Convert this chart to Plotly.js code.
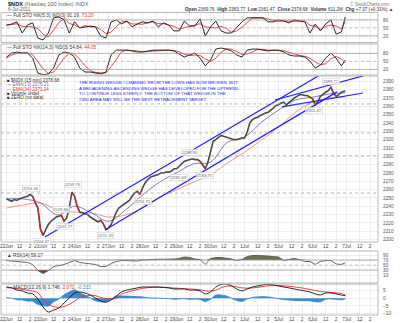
<!DOCTYPE html>
<html><head><meta charset="utf-8">
<script src="https://cdn.plot.ly/plotly-3.0.1.min.js"></script>
<style>html,body{margin:0;padding:0;background:#fff}#chart{width:400px;height:323px}</style>
</head><body><div id="chart"></div>
<script>
// ---------------- DATA ----------------
const dayLabels = ['22Jun','23Jun','24Jun','27Jun','28Jun','29Jun','30Jun','1Jul','5Jul','6Jul','7Jul'];
const intradayLabels = ['12','2'];          // 12:00 and 14:00 ticks
const intradayOffsets = [10, 18];           // bar offsets (15-min bars) from the open
const barsPerDay = 26;

// $NDX 15-min price, read every 30 minutes (13 readings per session)
const price = [
  2249,2247,2246,2248,2247,2249,2250,2251,2252,2254,2252,2244,2238,   // 22Jun
  2212,2205,2212,2218,2222,2225,2227,2228,2229,2222,2226,2238,2257,   // 23Jun
  2252,2240,2233,2232,2231,2230,2227,2225,2223,2221,2223,2219,2212,   // 24Jun
  2214,2218,2226,2233,2238,2240,2242,2244,2247,2252,2256,2258,2254,   // 27Jun
  2262,2268,2272,2275,2276,2277,2278,2280,2280,2281,2281,2282,2285,   // 28Jun
  2285,2288,2292,2294,2295,2296,2297,2296,2296,2294,2290,2285,2293,   // 29Jun
  2305,2318,2320,2322,2325,2324,2323,2322,2321,2320,2320,2321,2322,   // 30Jun
  2322,2329,2340,2344,2346,2347,2349,2351,2352,2353,2355,2358,2361,   // 1Jul
  2362,2364,2365,2362,2365,2368,2370,2372,2374,2374,2373,2373,2371,   // 5Jul
  2369,2362,2366,2372,2375,2377,2379,2383,2376,2372,2374,2377,2378.68 // 6Jul
];

// EMA overlays read every half session (13 bars)
const ema13 = [2248.7,2248.7,2244,2229.4,2240,2232,2222,2235.5,2253.5,2269,2280,2291,2293,2317,2323,2341,2355.6,2367.7,2371,2375,2376.21];
const ema34 = [2237.9,2241.5,2244,2235.5,2233,2232,2227,2229.4,2237.9,2251,2259.5,2269,2277.5,2292,2305,2319.6,2335,2353,2365,2370,2371.24];

// Indicators read every 4 bars (one hour), last value at the final bar
const stoK5 = [61,65,73,31,61,69,12,5,31,88,91,80,31,73,50,54,57,54,20,12,73,80,65,76,54,65,73,69,76,54,69,61,39,39,76,57,57,84,20,54,76,39,31,31,54,73,88,88,88,88,73,73,80,76,69,80,76,73,31,65,39,65,80,27,35,91.19];
const stoD5 = [60,63,66,56,55,54,47,26,16,41,70,86,67,61,51,59,54,55,44,29,35,55,73,74,65,65,64,69,73,66,66,61,56,46,51,57,63,66,54,53,50,56,49,34,39,53,72,88,88,88,83,78,75,76,75,75,75,76,60,56,45,56,61,57,47,73.20];
const stoK14 = [66,81,85,81,81,62,6,0,3,25,74,85,81,66,25,10,10,6,3,10,74,92,92,92,89,85,85,89,92,92,92,92,89,77,66,74,81,62,33,55,96,100,96,89,74,66,92,96,96,92,89,92,92,85,74,70,70,66,51,25,36,62,81,62,33,54.84];
const stoD14 = [62,74,80,82,82,75,50,22,5,10,35,62,80,77,58,34,15,9,7,7,30,60,86,92,91,89,86,87,89,91,92,92,91,86,77,72,74,72,59,50,62,84,97,95,87,76,78,85,95,95,92,91,91,90,84,77,72,69,62,48,38,41,60,68,59,44.05];
const rsi = [68,66,64,64,60,52,28,16,28,44,48,52,60,68,60,58,56,52,44,44,56,64,68,68,68,66,70,72,72,73,73,72,74,76,82,80,74,72,52,76,80,80,78,74,68,72,84,88,88,88,86,84,82,68,72,76,72,64,64,52,64,68,68,54,52,59.17];
const macd = [7.5,6.9,5.5,4.9,3.5,2.9,-0.5,-5.8,-9.1,-7.8,-6.5,-3.1,0.2,3.5,4.2,3.5,2.2,0.2,-1.8,-2.5,-1.1,1.5,4.2,5.5,6.2,6.9,7.5,7.5,7.5,7.5,7.2,6.9,6.2,6.2,6.2,5.5,5.5,4.9,2.9,4.2,7.5,9.2,9.5,8.2,6.2,4.9,6.2,7.5,8.2,8.9,9.2,8.9,8.2,7.5,6.9,6.2,5.5,4.9,4.2,2.9,2.2,3.5,3.5,2.9,2.2,1.748];
const signal = [7.0,6.9,6.5,6.0,5.4,4.8,3.7,-1.0,-4.0,-5.5,-6.0,-5.5,-4.0,-2.0,0.5,1.5,2.0,1.8,0.5,-0.2,-0.4,-0.1,2.7,4.0,5.0,5.8,6.6,7.1,7.3,7.4,7.3,7.1,6.8,6.6,6.4,6.2,6.0,5.7,5.0,4.8,5.4,7.0,8.0,8.2,7.6,6.9,6.7,6.9,7.3,7.8,8.3,8.5,8.5,8.3,8.0,7.6,7.1,6.5,5.9,5.2,4.5,4.2,3.9,3.6,3.2,2.072];
const hist = [0.5,0,-1.0,-1.1,-1.9,-1.9,-4.2,-4.8,-5.1,-2.3,-0.5,2.4,4.2,5.5,3.7,2.0,0.2,-1.6,-2.3,-2.3,-0.7,1.6,1.5,1.5,1.2,1.1,0.9,0.4,0.2,0.1,-0.1,-0.2,-0.6,-0.4,-0.2,-0.7,-0.5,-0.8,-2.1,-0.6,2.1,2.2,1.5,0,-1.4,-2.0,-0.5,0.6,0.9,1.1,0.9,0.4,-0.3,-0.8,-1.1,-1.4,-1.6,-1.6,-1.7,-2.3,-2.3,-0.7,-0.4,-0.7,-1.0,-0.333];

// Trend lines drawn on the chart (bar index, price)
const channelUpper = {i:[29.4,239.7], p:[2203,2397.8]};
const channelLower = {i:[75.3,252.7], p:[2211.4,2377.4]};
const wedgeUpper = {i:[205.3,272.5], p:[2367.7,2396.6]};
const wedgeLower = {i:[210.6,272.5], p:[2359.3,2376.1]};

// Price labels on the chart: bar index, price, text, above(1)/below(-1)
const priceLabels = [
  [19,2254.66,'2254.66',1],[51,2259.76,'2259.76',1],[42,2229.90,'2229.90',1],[45,2221.77,'2221.77',-1],
  [27,2204.47,'2204.47',-1],[76,2211.33,'2211.33',-1],[104,2251.71,'2251.71',-1],[132,2281.63,'2281.63',-1],
  [140,2298.55,'2298.55',1],[152,2283.71,'2283.71',-1],[248,2383.77,'2383.77',1],[235,2361.47,'2361.47',-1]
];
const dashedLevels = [2362.9,2328,2300.7,2255.9];

// ---------------- HELPERS ----------------
const H = 323;
const dom = (top,bot)=>[1-bot/H, 1-top/H];
const priceX = price.map((_,k)=> k===price.length-1 ? 259 : Math.floor(k/13)*barsPerDay + (k%13)*2);
const emaX = ema13.map((_,k)=> k===ema13.length-1 ? 259 : k*13);
const indX = stoK5.map((_,k)=> k===stoK5.length-1 ? 259 : k*4);

const tickvals=[], ticktext=[];
dayLabels.forEach((d,di)=>{
  tickvals.push(di*barsPerDay); ticktext.push(d);
  intradayOffsets.forEach((o,j)=>{tickvals.push(di*barsPerDay+o); ticktext.push(intradayLabels[j]);});
});

const F = 'Arial, "Liberation Sans", sans-serif';
const gridC = '#e4e4e4';
const xr = [-4.2, 284];
const xdom = [0.0025, 0.945];

const traces = [];
const ln = (x,y,xa,ya,color,w,extra)=>Object.assign({type:'scatter',mode:'lines',x,y,xaxis:xa,yaxis:ya,line:{color,width:w},hoverinfo:'skip',showlegend:false},extra||{});

// STO panels
traces.push(ln(indX,stoD5,'x','y','#e8302c',0.9));
traces.push(ln(indX,stoK5,'x','y','#111',0.9));
traces.push(ln(indX,stoD14,'x','y2','#e8302c',0.9));
traces.push(ln(indX,stoK14,'x','y2','#111',0.9));
// main panel
traces.push(ln(emaX,ema34,'x2','y3','#f08a80',0.9,{line:{color:'#f08a80',width:0.9,shape:'spline'}}));
traces.push(ln(emaX,ema13,'x2','y3','#6d6db0',0.9,{line:{color:'#6d6db0',width:0.9,shape:'spline'}}));
traces.push(ln(priceX,price,'x2','y3','#4a4a4a',1.6));
// sharp falling stretches drawn in red, as StockCharts colours down bars
const downX=[], downY=[];
price.forEach((p,k)=>{ if(k>0 && p<price[k-1]-3){ downX.push(priceX[k-1],priceX[k],null); downY.push(price[k-1],p,null);} });
traces.push(ln(downX,downY,'x2','y3','#d42020',1.1));
[channelUpper,channelLower,wedgeUpper,wedgeLower].forEach(c=>traces.push(ln(c.i,c.p,'x2','y3','#1f1fff',1.2)));
// RSI
const rsiHi = rsi.map(v=>Math.max(v,70)), rsiLo = rsi.map(v=>Math.min(v,30));
traces.push(ln(indX,indX.map(()=>70),'x','y4','rgba(0,0,0,0)',0));
traces.push(ln(indX,rsiHi,'x','y4','rgba(0,0,0,0)',0,{fill:'tonexty',fillcolor:'#6e7452'}));
traces.push(ln(indX,indX.map(()=>30),'x','y4','rgba(0,0,0,0)',0));
traces.push(ln(indX,rsiLo,'x','y4','rgba(0,0,0,0)',0,{fill:'tonexty',fillcolor:'#7a3434'}));
traces.push(ln(indX,rsi,'x','y4','#555',0.9));
// MACD
traces.push(ln(indX,hist,'x','y5','#3b8bd0',0.8,{fill:'tozeroy',fillcolor:'#3b8bd0',line:{color:'#2f7fc4',width:0.8,shape:'spline'}}));
traces.push(ln(indX,signal,'x','y5','#e8302c',0.9,{line:{color:'#e8302c',width:0.9,shape:'spline'}}));
traces.push(ln(indX,macd,'x','y5','#111',0.9,{line:{color:'#111',width:0.9,shape:'spline'}}));

// ---------------- LAYOUT ----------------
const yBase = {side:'right',showgrid:true,gridcolor:gridC,gridwidth:0.6,zeroline:false,ticks:'',
  tickfont:{family:F,size:4.8,color:'#555'},ticklabelstandoff:4,showline:false,fixedrange:true};
const xBase = {domain:xdom,range:xr,tickvals,ticktext,showgrid:true,gridcolor:gridC,gridwidth:0.6,zeroline:false,
  ticks:'',tickfont:{family:F,size:4.8,color:'#444'},ticklabeloverflow:'allow',showline:false,fixedrange:true};

const panels = {y:[12.5,42.5], y2:[44,75], y3:[76,242], y4:[251,283], y5:[284,315]};
const shapes = [];
Object.keys(panels).forEach(k=>{
  shapes.push({type:'rect',xref:(k==='y3'?'x2':'x')+' domain',yref:k+' domain',x0:0,x1:1,y0:0,y1:1,line:{color:'#a8a8a8',width:0.8}});
});
// reference lines
[[80,'y'],[20,'y'],[80,'y2'],[20,'y2'],[70,'y4'],[30,'y4']].forEach(([v,ya])=>
  shapes.push({type:'line',xref:'x domain',yref:ya,x0:0,x1:1,y0:v,y1:v,line:{color:'#9a9a9a',width:0.7}}));
[[50,'y'],[50,'y2'],[50,'y4']].forEach(([v,ya])=>
  shapes.push({type:'line',xref:'x domain',yref:ya,x0:0,x1:1,y0:v,y1:v,line:{color:'#aaa',width:0.6,dash:'dot'}}));
dashedLevels.forEach(v=>shapes.push({type:'line',xref:'x2 domain',yref:'y3',x0:0,x1:1,y0:v,y1:v,line:{color:'#999',width:0.7,dash:'dot'}}));

const ann = [];
const txt = (x,y,text,size,color,extra)=>ann.push(Object.assign({xref:'paper',yref:'paper',x:x/400,y:1-y/H,text,showarrow:false,
  xanchor:'left',yanchor:'middle',align:'left',font:{family:F,size,color}},extra||{}));
txt(6,3.5,'<b>$NDX</b> <span style="color:#666">(Nasdaq 100 Index) INDX</span>',5.6,'#111');
txt(6,9.3,'6-Jul-2011',4.8,'#666');
txt(392,4,'© StockCharts.com',4.6,'#777',{xanchor:'right'});
txt(395,9.3,'<b>Open</b> 2369.76  <b>High</b> 2383.77  <b>Low</b> 2361.47  <b>Close</b> 2378.68  <b>Volume</b> 611.2M  <b>Chg</b> +7.37 (+0.31%) ▲',4.6,'#333',{xanchor:'right'});
txt(5,15.5,'— Full STO %K(5,3) %D(3) 91.19, <span style="color:#e8302c">73.20</span>',4.8,'#333');
txt(5,47.5,'— Full STO %K(14,3) %D(3) 54.84, <span style="color:#e8302c">44.05</span>',4.8,'#333');
txt(5,80.7,'■ $NDX (15 min) 2378.68',4.6,'#333');
txt(5,85,'<span style="color:#6d6db0">—</span> EMA(13) 2376.21',4.6,'#6d6db0');
txt(5,89.3,'<span style="color:#f08a80">—</span> EMA(34) 2371.24',4.6,'#e8302c');
txt(5,93.7,'■ Volume undef',4.6,'#333');
txt(5,98,'■ ZERO (no data)',4.6,'#333');
const blueNote = ['THE RISING WEDGE / CHANNEL FROM THE LOWS HAS NOW BROKEN, BUT',
  'A BROADENING ASCENDING WEDGE HAS DEVELOPED FOR THE UPTREND',
  'TO CONTINUE LESS STEEPLY. THE BOTTOM OF THAT WEDGE IN THE',
  '2360 AREA MAY WILL BE THE NEXT RETRACEMENT TARGET'];
txt(77,78,blueNote.join('<br>'),4.4,'#2a2ae0',{yanchor:'top'});
txt(5,255,'<b>▲</b> RSI(14) 59.17',4.8,'#333');
txt(5,287,'— MACD(12,26,9) 1.748, <span style="color:#e8302c">2.072</span>, <span style="color:#3b8bd0">-0.333</span>',4.8,'#333');

priceLabels.forEach(([i,p,t,s])=>ann.push({xref:'x2',yref:'y3',x:i,y:p,text:t,showarrow:false,
  yanchor:s>0?'bottom':'top',yshift:s>0?2:-2,font:{family:F,size:4.2,color:'#666'},bgcolor:'rgba(255,255,255,0.85)',bordercolor:'#ccc',borderwidth:0.5,borderpad:0.5}));

const layout = {
  width:400,height:323,margin:{l:0,r:0,t:0,b:0},paper_bgcolor:'#fff',plot_bgcolor:'#fff',showlegend:false,
  xaxis:Object.assign({},xBase,{anchor:'y5'}),
  xaxis2:Object.assign({},xBase,{anchor:'y3',matches:'x'}),
  yaxis:Object.assign({},yBase,{domain:dom(...panels.y),range:[-4.5,108],tickvals:[20,50,80],anchor:'x'}),
  yaxis2:Object.assign({},yBase,{domain:dom(...panels.y2),range:[-1,115],tickvals:[20,50,80],anchor:'x'}),
  yaxis3:Object.assign({},yBase,{domain:dom(...panels.y3),range:[2197,2396.5],dtick:10,tick0:2200,anchor:'x2'}),
  yaxis4:Object.assign({},yBase,{domain:dom(...panels.y4),range:[-22,106],tickvals:[10,30,50,70,90],anchor:'x'}),
  yaxis5:Object.assign({},yBase,{domain:dom(...panels.y5),range:[-11.1,9.5],tickvals:[-10,-5,0,5,10],anchor:'x'}),
  shapes,annotations:ann
};
Plotly.newPlot('chart',traces,layout,{staticPlot:true,displayModeBar:false});
</script></body></html>
